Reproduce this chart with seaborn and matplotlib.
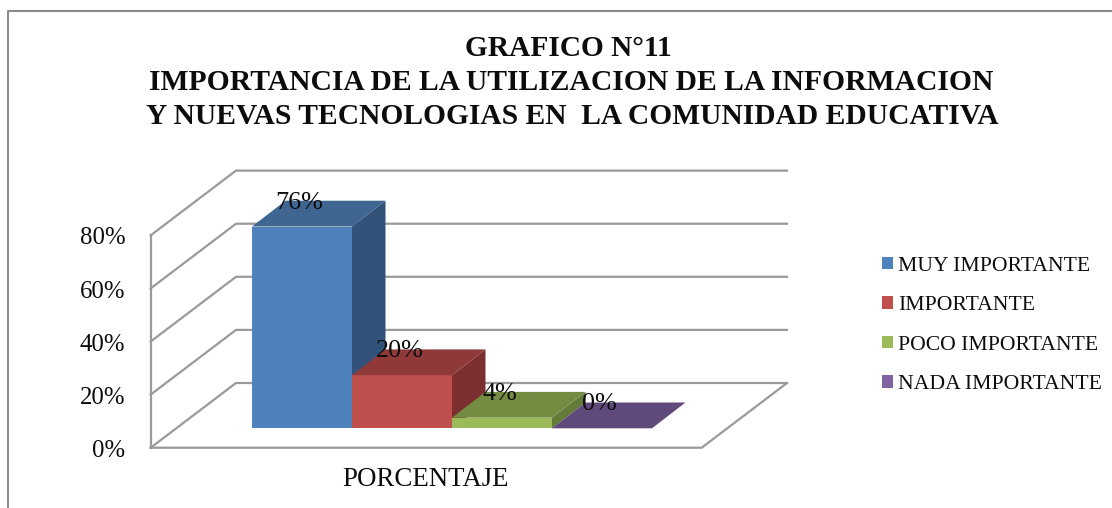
import matplotlib
matplotlib.use("Agg")
import matplotlib.pyplot as plt
import seaborn as sns
from matplotlib.patches import Polygon, Patch
from matplotlib.lines import Line2D

categories = ["MUY IMPORTANTE", "IMPORTANTE", "POCO IMPORTANTE", "NADA IMPORTANTE"]
values = [76, 20, 4, 0]
value_labels = ["76%", "20%", "4%", "0%"]
y_ticks = [0, 20, 40, 60, 80]
y_tick_labels = ["0%", "20%", "40%", "60%", "80%"]
x_label = "PORCENTAJE"
title_lines = ["GRAFICO N°11",
               "IMPORTANCIA DE LA UTILIZACION DE LA INFORMACION",
               "Y NUEVAS TECNOLOGIAS EN  LA COMUNIDAD EDUCATIVA"]
front_colors = ["#4F81BD", "#C0504D", "#9BBB59", "#8064A2"]
top_colors = ["#3F6591", "#8F3A39", "#748C42", "#604A7B"]
side_colors = ["#335279", "#7C2F2E", "#647A39", "#4F3D66"]

W, H = 1112, 508
sns.set_theme(style="white")
plt.rcParams["font.family"] = ["Liberation Serif", "DejaVu Serif"]
fig = plt.figure(figsize=(W / 100, H / 100), dpi=100)
ax = fig.add_axes([0, 0, 1, 1])

sns.barplot(x=categories, y=values, hue=categories, order=categories, hue_order=categories,
            palette=front_colors, width=1, dodge=False, legend=False, ax=ax,
            saturation=1, linewidth=0)

# data frame of the picture: one category = 100 px, one percent = 2.655 px
PX_X, PX_Y = 100.0, 2.655
X0, Y0 = 302.0, 428.3
ax.set_xlim(-X0 / PX_X, (W - X0) / PX_X)
ax.set_ylim((Y0 - H) / PX_Y, Y0 / PX_Y)
ax.axis("off")

# 3-D projection offsets, in data units
BAR_DX, BAR_DY = 33.5 / PX_X, 25.8 / PX_Y
WALL_DX, WALL_DY = 85.3 / PX_X, 64.7 / PX_Y
FLOOR_LEFT = (150.7 - X0) / PX_X
FLOOR_RIGHT = (701.7 - X0) / PX_X
FLOOR_Y = -(447.7 - Y0) / PX_Y
TEXT_DROP = 3.2 / PX_Y
GREY = "#9a9a9a"
INK = "#0c0c0c"

def wall(xs, ys):
    ax.add_line(Line2D(xs, ys, color=GREY, lw=1.6, zorder=1, solid_capstyle="projecting"))

top_tick = y_ticks[-1]
wall([FLOOR_LEFT, FLOOR_LEFT], [FLOOR_Y, FLOOR_Y + top_tick])
for t in y_ticks:
    y = FLOOR_Y + t
    wall([FLOOR_LEFT, FLOOR_LEFT + WALL_DX, FLOOR_RIGHT + WALL_DX],
         [y, y + WALL_DY, y + WALL_DY])
wall([FLOOR_LEFT, FLOOR_RIGHT, FLOOR_RIGHT + WALL_DX],
     [FLOOR_Y, FLOOR_Y, FLOOR_Y + WALL_DY])

for t, lab in zip(y_ticks, y_tick_labels):
    ax.text(FLOOR_LEFT - 0.255, FLOOR_Y + t - TEXT_DROP, lab, ha="right", va="center",
            fontsize=17.8, color=INK, zorder=8)

for i, (patch, v) in enumerate(zip(ax.patches, values)):
    left, right = patch.get_x(), patch.get_x() + patch.get_width()
    patch.set_zorder(3 + i)
    ax.add_patch(Polygon([(right, 0), (right + BAR_DX, BAR_DY), (right + BAR_DX, v + BAR_DY), (right, v)],
                         closed=True, fc=side_colors[i], ec="none", zorder=3 + i))
    ax.add_patch(Polygon([(left, v), (left + BAR_DX, v + BAR_DY), (right + BAR_DX, v + BAR_DY), (right, v)],
                         closed=True, fc=top_colors[i], ec="none", zorder=3 + i))
    ax.text(i - 0.025, v + BAR_DY - 2.0 / PX_Y, value_labels[i], ha="center", va="center",
            fontsize=18.8, color=INK, zorder=9)

ax.text((425.5 - X0) / PX_X, -(480 - Y0) / PX_Y, x_label, ha="center", va="center",
        fontsize=19.4, color=INK, zorder=8)

# title
for line, cx, py, fs in zip(title_lines, [568, 571, 572.5], [48.5, 82.5, 116.5], [21.2, 21.3, 21.25]):
    fig.text(cx / W, 1 - py / H, line, ha="center", va="center",
             fontsize=fs, fontweight="bold", color=INK)

# legend
handles = [Patch(fc=c, ec="none", label=n) for c, n in zip(front_colors, categories)]
leg = ax.legend(handles=handles, loc="center left", bbox_to_anchor=(882 / W, 1 - 325.5 / H),
                bbox_transform=fig.transFigure, frameon=False, fontsize=15.55,
                handlelength=0.51, handleheight=0.51, handletextpad=0.23,
                labelspacing=0.945, labelcolor=INK, borderpad=0, borderaxespad=0)
leg.set_zorder(10)

# frame of the chart area, only the parts seen in the picture
fig.add_artist(Line2D([8 / W, 8 / W, 1], [0, 1 - 11 / H, 1 - 11 / H],
                      color="#8c8c8c", lw=1.5, transform=fig.transFigure))

fig.savefig("out.png", dpi=100)
